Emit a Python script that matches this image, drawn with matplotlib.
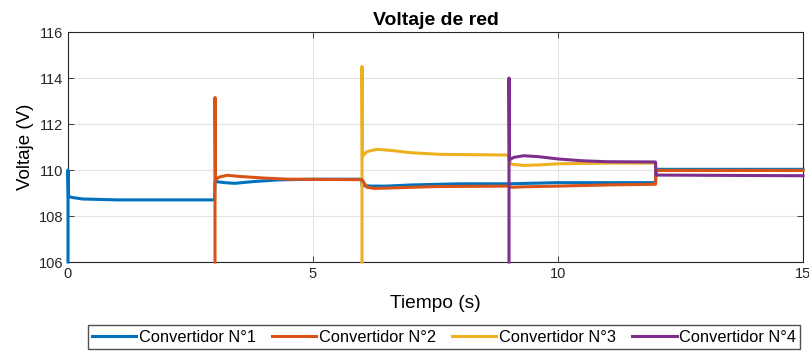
import matplotlib
matplotlib.use("Agg")
import matplotlib.pyplot as plt

plt.rcParams['font.family'] = ['Liberation Sans', 'DejaVu Sans']

labels = ["Convertidor N°1", "Convertidor N°2", "Convertidor N°3", "Convertidor N°4"]
colors = ["#0072BD", "#D95319", "#EDB120", "#7E2F8E"]

t1 = [0, 0, 0.01, 0.1, 0.3, 1.0, 2.99, 3.0, 3.2, 3.4, 3.8, 4.3, 5.0, 5.99, 6.0, 6.2, 6.5, 7.0, 8.0, 8.99, 9.0, 10.0, 11.99, 12.0, 15.0]
v1 = [106, 110, 108.85, 108.8, 108.74, 108.7, 108.7, 109.5, 109.45, 109.42, 109.5, 109.57, 109.6, 109.6, 109.32, 109.3, 109.3, 109.35, 109.4, 109.4, 109.4, 109.45, 109.45, 110.03, 110.03]

t2 = [3.0, 3.0, 3.01, 3.1, 3.25, 3.5, 4.0, 4.5, 5.99, 6.0, 6.1, 6.25, 6.6, 7.5, 8.99, 9.05, 9.3, 10.0, 11.0, 11.99, 12.0, 15.0]
v2 = [106, 113.15, 109.6, 109.7, 109.77, 109.72, 109.65, 109.6, 109.58, 109.58, 109.25, 109.2, 109.22, 109.28, 109.3, 109.25, 109.27, 109.3, 109.35, 109.38, 109.98, 109.98]

t3 = [6.0, 6.0, 6.01, 6.1, 6.3, 6.6, 7.0, 7.6, 8.99, 9.0, 9.05, 9.3, 9.6, 10.0, 11.0, 11.99, 12.0, 15.0]
v3 = [106, 114.5, 110.6, 110.8, 110.9, 110.85, 110.75, 110.68, 110.65, 110.45, 110.25, 110.2, 110.22, 110.27, 110.3, 110.3, 109.98, 109.98]

t4 = [9.0, 9.0, 9.01, 9.1, 9.3, 9.6, 10.0, 10.5, 11.0, 11.99, 12.0, 15.0]
v4 = [106, 114.0, 110.45, 110.55, 110.62, 110.58, 110.48, 110.4, 110.36, 110.35, 109.78, 109.75]

series = [(t1, v1), (t2, v2), (t3, v3), (t4, v4)]
zorders = [3, 3.3, 3.1, 3.4]

fig = plt.figure(figsize=(8.09, 3.52), dpi=100)
ax = fig.add_axes([68/809, 1-262/352, (803-68)/809, (262-32)/352])

for (t, v), c, lab, z in zip(series, colors, labels, zorders):
    ax.plot(t, v, color=c, lw=2.2, label=lab, zorder=z, clip_on=False)

ax.set_xlim(0, 15)
ax.set_ylim(106, 116)
ax.set_xticks([0, 5, 10, 15])
ax.set_yticks([106, 108, 110, 112, 114, 116])
ax.grid(True, color="#e3e3e3", lw=0.8)
ax.set_axisbelow(True)
for s in ax.spines.values():
    s.set_color("#262626")
    s.set_linewidth(0.8)
    s.set_zorder(2.5)
ax.tick_params(direction="in", top=True, right=True, labelsize=10.5, colors="#262626", length=4, width=0.6)
ax.set_title("Voltaje de red", fontsize=14, fontweight="bold", pad=5)
ax.set_xlabel("Tiempo (s)", fontsize=13.8, labelpad=10)
ax.set_ylabel("Voltaje (V)", fontsize=13.5, labelpad=3)

fig.legend(loc="center", bbox_to_anchor=(444/809, 15/352), ncol=4, fontsize=11.8,
           frameon=True, fancybox=False, edgecolor="#262626", handlelength=2.7,
           columnspacing=1.0, handletextpad=0.15, borderpad=0.25, borderaxespad=0)

fig.savefig("out.png", dpi=100)
